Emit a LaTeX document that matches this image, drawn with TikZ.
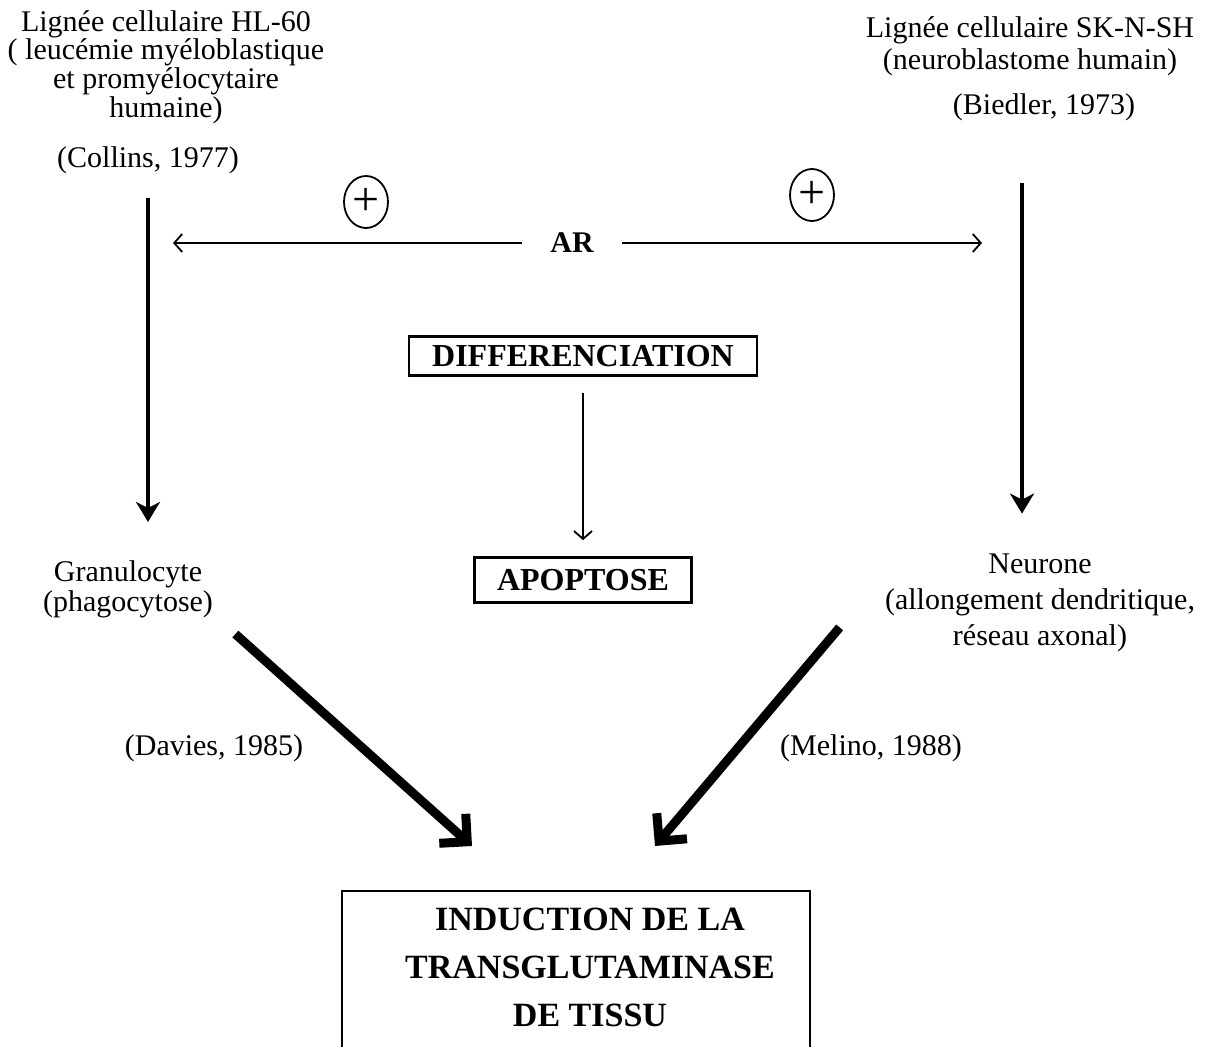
\documentclass[tikz,border=0pt]{standalone}
\usepackage{fontspec}
\setmainfont{Liberation Serif}
\usetikzlibrary{arrows.meta, positioning, calc, shapes.geometric}

\begin{document}
\begin{tikzpicture}[x=0.5pt, y=-0.5pt,
  every node/.style={font=\fontsize{15}{14.3}\selectfont, align=center, inner sep=0pt},
  boxlabel/.style={draw, line width=1.3pt, font=\fontsize{16}{18}\selectfont\bfseries},
  plussign/.style={draw, ellipse, line width=0.9pt, minimum width=22pt, minimum height=26pt, inner sep=0pt, font=\fontsize{24}{24}\selectfont},
  cellarrow/.style={line width=1.6pt, -{Stealth[length=10pt, width=12pt, inset=3pt]}},
  thinarrow/.style={line width=0.9pt, -{Straight Barb[length=4pt, width=9pt]}},
  bigarrow/.style={line width=4.5pt, line join=miter, -{Straight Barb[angle=90:14pt]}}]
  \useasboundingbox (0,0) rectangle (1216,1047);

  % cell lines
  \node (hlsixty) at (166,67) {Lignée cellulaire HL-60\\( leucémie myéloblastique\\et promyélocytaire\\humaine)};
  \node (collins) at (148,160) {(Collins, 1977)};
  \node[font=\fontsize{15}{16}\selectfont] (sknsh) at (1030,46) {Lignée cellulaire SK-N-SH\\(neuroblastome humain)};
  \node (biedler) at (1044,107) {(Biedler, 1973)};

  % retinoic acid
  \node[font=\fontsize{15}{15}\selectfont\bfseries, inner xsep=14pt] (ar) at (572,243) {AR};
  \node[plussign] (plusleft) at (366,202) {+};
  \node[plussign] (plusright) at (812,195) {+};

  \node[boxlabel, minimum width=174pt, minimum height=19.5pt] (diff) at (583,356) {DIFFERENCIATION};
  \node[boxlabel, minimum width=108.5pt, minimum height=22.5pt] (apop) at (583,580) {APOPTOSE};

  \node[font=\fontsize{15}{15}\selectfont] (gran) at (128,589) {Granulocyte\\(phagocytose)};
  \node[font=\fontsize{15}{18}\selectfont] (neur) at (1040,603) {Neurone\\(allongement dendritique,\\réseau axonal)};

  \node (davies) at (214,748) {(Davies, 1985)};
  \node (melino) at (871,748) {(Melino, 1988)};

  \node[draw, line width=1pt, minimum width=234pt, minimum height=100pt, anchor=north] (induc) at (576,890) {};
  \node[font=\fontsize{17}{24}\selectfont\bfseries] (inductext) at (590,967) {INDUCTION DE LA\\TRANSGLUTAMINASE\\DE TISSU};

  % arrows
  \draw[cellarrow, shorten <=12pt, shorten >=19pt] (collins.south) -- (collins.south |- gran.north);
  \draw[cellarrow, shorten <=31pt, shorten >=20pt] ([xshift=-11pt]biedler.south) -- ([xshift=-11pt]biedler.south |- neur.north);
  \draw[thinarrow, shorten >=12.5pt] (ar.west) -- (collins.south |- ar.west);
  \draw[thinarrow, shorten >=20pt] (ar.east) -- ([xshift=-11pt]biedler.south |- ar.east);
  \draw[thinarrow, shorten <=8pt, shorten >=8pt] (diff.south) -- (apop.north);
  \draw[bigarrow] ($(gran.south east)+(22,16)$) -- ($(induc.north)+(-104,-44)$);
  \draw[bigarrow] ($(neur.south west)+(-45,-25)$) -- ($(induc.north)+(79,-44)$);
\end{tikzpicture}
\end{document}
